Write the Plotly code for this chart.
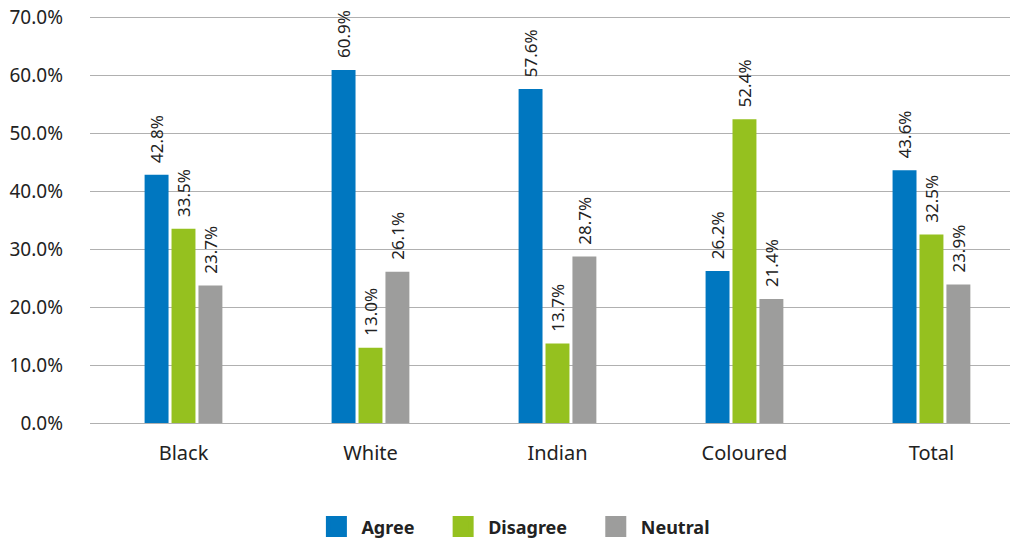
import plotly.graph_objects as go

categories = ["Black", "White", "Indian", "Coloured", "Total"]
agree = [42.8, 60.9, 57.6, 26.2, 43.6]
disagree = [33.5, 13.0, 13.7, 52.4, 32.5]
neutral = [23.7, 26.1, 28.7, 21.4, 23.9]
series = [("Agree", agree, "#0077C0"), ("Disagree", disagree, "#95C11F"), ("Neutral", neutral, "#9D9D9C")]
yticks = [0, 10, 20, 30, 40, 50, 60, 70]

FONT = "Noto Sans"
NB = "\u00a0"
fig = go.Figure()
offsets = [-0.208, -0.064, 0.08]
for (name, vals, col), off in zip(series, offsets):
    fig.add_trace(go.Bar(
        x=categories, y=vals, name=name, marker=dict(color=col, line=dict(width=0)),
        width=0.128, offset=off, showlegend=False,
        text=[f"{NB}{NB}{v:.1f}%" for v in vals], textposition="outside", textangle=-90,
        constraintext="none",
        textfont=dict(family=FONT, size=17, color="#222"), cliponaxis=False,
    ))
for name, vals, col in series:
    fig.add_trace(go.Scatter(
        x=[None], y=[None], mode="markers", name=name + NB * 4,
        marker=dict(symbol="square", size=16, color=col, line=dict(color=col, width=6)),
    ))

fig.update_layout(
    width=1012, height=540,
    margin=dict(l=90, r=2, t=16, b=117, autoexpand=False),
    plot_bgcolor="white", paper_bgcolor="white",
    font=dict(family=FONT, color="#222"),
    barmode="overlay",
    xaxis=dict(range=[-0.5, 4.42], showgrid=False, showline=True, linecolor="#b0b0b0", linewidth=1,
               ticks="", tickfont=dict(size=20), ticklabelstandoff=12, fixedrange=True),
    yaxis=dict(range=[0, 70.2], tickvals=yticks, ticktext=[f"{v:.1f}%" for v in yticks],
               showgrid=True, gridcolor="#b0b0b0", gridwidth=1, zeroline=False,
               tickfont=dict(size=19), ticklabelstandoff=26, showline=False,
               ticklabeloverflow="allow"),
    legend=dict(orientation="h", x=0.47, xanchor="center", y=-0.255, yanchor="middle",
                font=dict(size=18, family=FONT, weight="bold"), itemwidth=40,
                traceorder="normal"),
)
fig.write_html("out.html", config={"displayModeBar": False},
               post_script="document.body.style.margin='0';document.body.style.overflow='hidden';")
